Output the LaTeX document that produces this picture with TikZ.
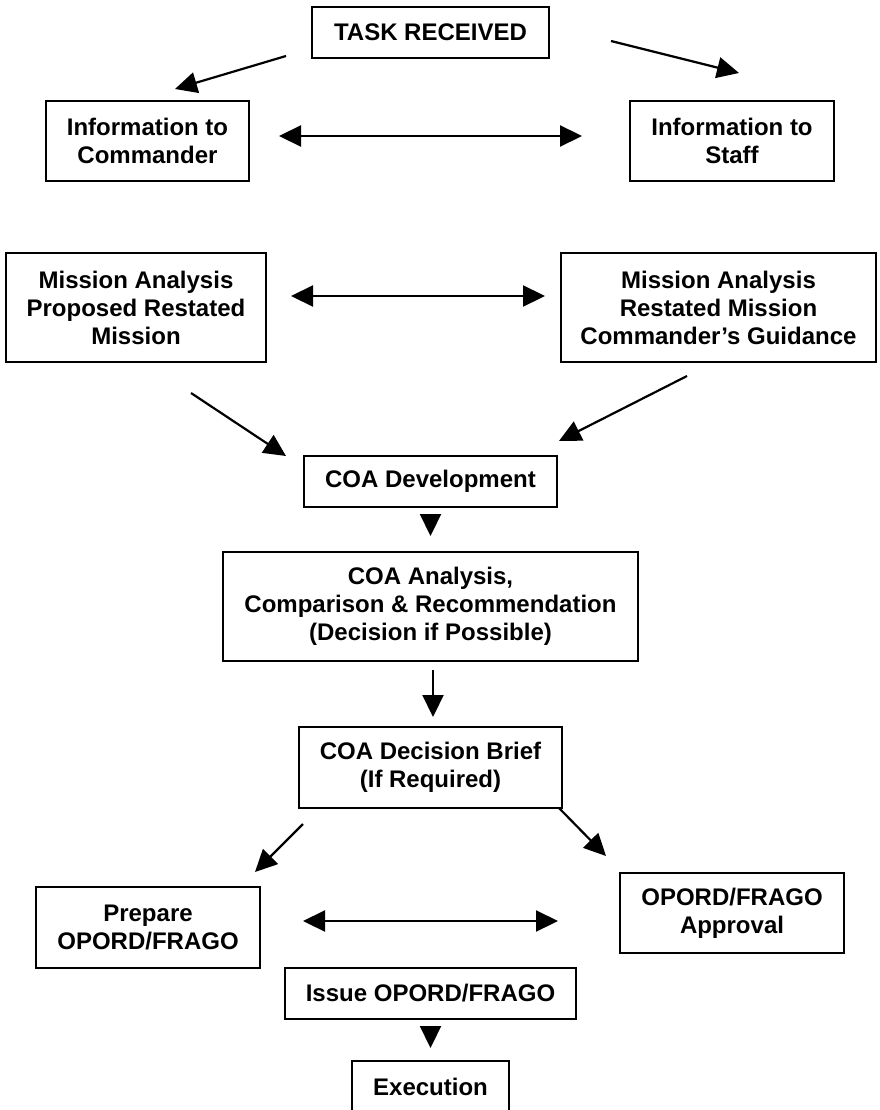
\documentclass[tikz,border=0pt]{standalone}
\usepackage{fontspec}
\setmainfont{Liberation Sans}
\usetikzlibrary{arrows.meta}
\begin{document}
\begin{tikzpicture}[x=1pt,y=-1pt,
  box/.style={draw, line width=2pt, inner sep=0pt, align=center, font=\bfseries\fontsize{24}{28}\selectfont},
  tip/.style={Triangle[length=22pt,width=21pt]},
  arr/.style={line width=2.2pt, -{Triangle[length=22pt,width=21pt]}},
  darr/.style={line width=2.2pt, {Triangle[length=22pt,width=21pt]}-{Triangle[length=22pt,width=21pt]}}]
\useasboundingbox (0,0) rectangle (879,1110);
\clip (0,0) rectangle (879,1110);
% boxes
\node[box, minimum width=237pt, minimum height=51pt] (task) at (430.5,32.5) {TASK RECEIVED};
\node[box, minimum width=203pt, minimum height=80pt] (cmd) at (147.5,141) {Information to\\Commander};
\node[box, minimum width=204pt, minimum height=80pt] (staff) at (732,141) {Information to\\Staff};
\node[box, minimum width=260pt, minimum height=109pt] (mleft) at (136,307.5) {Mission Analysis\\Proposed Restated\\Mission};
\node[box, minimum width=315pt, minimum height=109pt] (mright) at (718.5,307.5) {Mission Analysis\\Restated Mission\\Commander’s Guidance};
\node[box, minimum width=253pt, minimum height=51pt] (dev) at (430.5,481.5) {COA Development};
\node[box, minimum width=415pt, minimum height=109pt] (ana) at (430.5,606.5) {COA Analysis,\\Comparison \& Recommendation\\(Decision if Possible)};
\node[box, minimum width=263pt, minimum height=81pt] (dec) at (430.5,767.5) {COA Decision Brief\\(If Required)};
\node[box, minimum width=224pt, minimum height=81pt] (prep) at (148,927.5) {Prepare\\OPORD/FRAGO};
\node[box, minimum width=224pt, minimum height=80pt] (appr) at (732,913) {OPORD/FRAGO\\Approval};
\node[box, minimum width=291pt, minimum height=51pt] (issue) at (430.5,993.5) {Issue OPORD/FRAGO};
\node[box, minimum width=157pt, minimum height=51pt] (exec) at (430.5,1086.5) {Execution};
% free connector ends
\coordinate (a1s) at (286,56);  \coordinate (a1e) at (175,89);
\coordinate (a2s) at (611,41);  \coordinate (a2e) at (739,73);
\coordinate (d1s) at (279,136); \coordinate (d1e) at (582,136);
\coordinate (d2s) at (291,296); \coordinate (d2e) at (545,296);
\coordinate (a3s) at (191,393); \coordinate (a3e) at (286,456);
\coordinate (a4s) at (687,376); \coordinate (a4e) at (559,441);
\coordinate (a5s) at (433,670); \coordinate (a5e) at (433,717);
\coordinate (a6s) at (303,824); \coordinate (a6e) at (255,872);
\coordinate (a7s) at (559,808); \coordinate (a7e) at (606,856);
\coordinate (d3s) at (303,921); \coordinate (d3e) at (558,921);
% connectors
\draw[arr] (a1s) -- (a1e);
\draw[arr] (a2s) -- (a2e);
\draw[darr] (d1s) -- (d1e);
\draw[darr] (d2s) -- (d2e);
\draw[arr] (a3s) -- (a3e);
\draw[arr] (a4s) -- (a4e);
\draw[arr, shorten <=7pt, shorten >=15pt] (dev.south) -- (ana.north);
\draw[arr] (a5s) -- (a5e);
\draw[arr] (a6s) -- (a6e);
\draw[arr] (a7s) -- (a7e);
\draw[darr] (d3s) -- (d3e);
\draw[arr, shorten <=7pt, shorten >=12pt] (issue.south) -- (exec.north);
\end{tikzpicture}
\end{document}
